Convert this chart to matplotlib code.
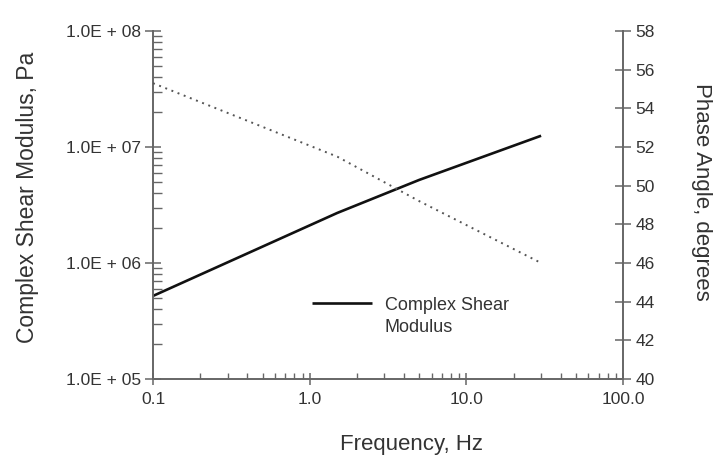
import math
import matplotlib.pyplot as plt
from matplotlib.ticker import FixedLocator, FuncFormatter, LogLocator, NullFormatter

plt.rcParams['font.family'] = ['Liberation Sans', 'DejaVu Sans']

# readings: frequency (Hz), complex shear modulus (Pa), phase angle (deg)
freq = [0.1, 1.5, 5.0, 30.0]
g_star = [5.2e5, 2.7e6, 5.2e6, 1.25e7]
phase = [55.3, 51.5, 49.2, 46.0]

x_ticks = [0.1, 1.0, 10.0, 100.0]
x_tick_labels = ['0.1', '1.0', '10.0', '100.0']
y_ticks = [1e5, 1e6, 1e7, 1e8]
phase_ticks = list(range(40, 59, 2))

txt = '#333333'
axc = '#666666'

fig = plt.figure(figsize=(7.13, 4.61), dpi=100)
ax = fig.add_axes([0.2146, 0.1779, 0.6592, 0.7549])
ax2 = ax.twinx()

ax.plot(freq, g_star, color='#111111', lw=1.9, solid_capstyle='butt',
        label='Complex Shear')
ax2.plot(freq, phase, color='#555555', lw=1.4, linestyle=(0, (1, 2.4)))

ax.set_xscale('log')
ax.set_yscale('log')
ax.set_xlim(0.1, 100)
ax.set_ylim(1e5, 1e8)
ax2.set_ylim(40, 58)

ax.xaxis.set_major_locator(FixedLocator(x_ticks))
ax.xaxis.set_major_formatter(FuncFormatter(
    lambda v, p: x_tick_labels[x_ticks.index(v)] if v in x_ticks else ''))
ax.xaxis.set_minor_locator(LogLocator(base=10, subs=range(2, 10)))
ax.xaxis.set_minor_formatter(NullFormatter())

ax.yaxis.set_major_locator(FixedLocator(y_ticks))
ax.yaxis.set_major_formatter(FuncFormatter(lambda v, p: '1.0E + %02d' % round(math.log10(v))))
ax.yaxis.set_minor_locator(LogLocator(base=10, subs=range(2, 10)))
ax.yaxis.set_minor_formatter(NullFormatter())

ax2.yaxis.set_major_locator(FixedLocator(phase_ticks))

for a in (ax, ax2):
    for s in a.spines.values():
        s.set_visible(False)
ax.spines['left'].set_visible(True)
ax.spines['bottom'].set_visible(True)
ax2.spines['right'].set_visible(True)
for s in (ax.spines['left'], ax.spines['bottom'], ax2.spines['right']):
    s.set_color(axc)
    s.set_linewidth(1.4)

ax.tick_params(axis='y', which='major', direction='inout', length=11, width=1.1,
               color=axc, labelsize=12.5, labelcolor=txt, pad=3)
ax.tick_params(axis='y', which='minor', direction='in', length=6.5, width=1.0, color=axc)
ax.tick_params(axis='x', which='major', direction='inout', length=9, width=1.1,
               color=axc, labelsize=12.5, labelcolor=txt, pad=5)
ax.tick_params(axis='x', which='minor', direction='in', length=4.5, width=1.0, color=axc)
ax2.tick_params(axis='y', which='major', direction='inout', length=12, width=1.1,
                color=axc, labelsize=12.5, labelcolor=txt, pad=3)

ax.set_xlabel('Frequency, Hz', fontsize=16, color=txt)
ax.xaxis.set_label_coords(0.55, -0.158)
ax.set_ylabel('Complex Shear Modulus, Pa', fontsize=16.5, color=txt)
ax.yaxis.set_label_coords(-0.243, 0.523)
ax2.set_ylabel('Phase Angle, degrees', fontsize=16, color=txt, rotation=270, va='center')
ax2.yaxis.set_label_coords(1.167, 0.537)

leg = ax.legend(loc='center left', bbox_to_anchor=(0.32, 0.2126), frameon=False,
                fontsize=13, handlelength=3.3, handletextpad=0.7, borderpad=0)
leg_text = leg.get_texts()[0]
leg_text.set_color(txt)

# second line of the legend label, hung under the first one
fig.canvas.draw()
bb = leg_text.get_window_extent().transformed(fig.transFigure.inverted())
fig.text(bb.x0, bb.y0 - 22 / 461, 'Modulus', fontsize=13, color=txt,
         ha='left', va='bottom')

fig.savefig('out.png', dpi=100)
